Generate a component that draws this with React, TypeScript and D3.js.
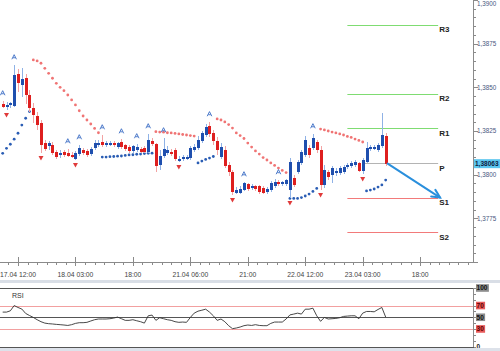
import * as d3 from "d3";

// hourly EURUSD-like bars, 17.04 08:00 .. 23.04 09:00
const open = [
  1.38405, 1.38387, 1.38399, 1.38393, 1.38576, 1.38513, 1.38553, 1.38456, 1.38382, 1.38336,
  1.38296, 1.38181, 1.38164, 1.3817, 1.3813, 1.38113, 1.3813, 1.38124, 1.38113, 1.3809,
  1.38118, 1.38141, 1.38136, 1.38118, 1.38153, 1.3817, 1.38187, 1.3817, 1.3817, 1.38181,
  1.38158, 1.38187, 1.3817, 1.38158, 1.38136, 1.38141, 1.38147, 1.38153, 1.3813, 1.38193,
  1.38176, 1.38055, 1.38107, 1.38124, 1.3813, 1.38141, 1.38078, 1.3809, 1.3809, 1.38095,
  1.38141, 1.38153, 1.38193, 1.38227, 1.38279, 1.38239, 1.38193, 1.38101, 1.38141, 1.38055,
  1.38015, 1.37895, 1.37895, 1.37912, 1.37947, 1.37924, 1.37935, 1.37935, 1.37924, 1.37901,
  1.37912, 1.37935, 1.37958, 1.37947, 1.37947, 1.37912, 1.37981, 1.38015, 1.38067, 1.38113,
  1.38153, 1.38153, 1.38187, 1.38141, 1.37941, 1.38015, 1.37998, 1.3801, 1.3801, 1.38015,
  1.38044, 1.3805, 1.38055, 1.38067, 1.38021, 1.38073, 1.38147, 1.38147, 1.38141, 1.38164,
  1.38221,
];
const high = [
  1.38422, 1.38416, 1.38416, 1.38628, 1.38605, 1.38611, 1.38576, 1.38485, 1.3841, 1.38359,
  1.38313, 1.38199, 1.38193, 1.38187, 1.38141, 1.38141, 1.38141, 1.38147, 1.3813, 1.38136,
  1.3817, 1.38153, 1.38147, 1.38158, 1.38199, 1.38199, 1.38227, 1.38193, 1.38193, 1.38193,
  1.38187, 1.38204, 1.38176, 1.3817, 1.3817, 1.38176, 1.38158, 1.38164, 1.38233, 1.3821,
  1.38181, 1.38141, 1.3821, 1.38164, 1.38147, 1.38153, 1.38107, 1.38113, 1.38113, 1.38164,
  1.38176, 1.38221, 1.3825, 1.3829, 1.38302, 1.38256, 1.38216, 1.38181, 1.38164, 1.38073,
  1.38027, 1.37929, 1.37935, 1.37958, 1.37952, 1.37947, 1.37941, 1.37941, 1.37935, 1.37929,
  1.37964, 1.37975, 1.3797, 1.37964, 1.37975, 1.38095, 1.37998, 1.38084, 1.38141, 1.38221,
  1.3817, 1.38233, 1.38199, 1.38164, 1.38055, 1.38027, 1.3805, 1.38038, 1.3805, 1.38055,
  1.38067, 1.38078, 1.38084, 1.38073, 1.38095, 1.38187, 1.3817, 1.3817, 1.38181, 1.38353,
  1.38239,
];
const low = [
  1.38382, 1.3837, 1.38382, 1.38387, 1.38473, 1.38445, 1.38405, 1.38359, 1.38296, 1.38256,
  1.38124, 1.38136, 1.38141, 1.38113, 1.3809, 1.38095, 1.38101, 1.38101, 1.38095, 1.38084,
  1.38107, 1.38113, 1.38101, 1.38107, 1.38141, 1.38158, 1.38158, 1.38158, 1.38164, 1.38158,
  1.38147, 1.38147, 1.38136, 1.38124, 1.38124, 1.3813, 1.38124, 1.38124, 1.38124, 1.38164,
  1.38015, 1.38027, 1.38095, 1.38113, 1.38107, 1.38078, 1.38073, 1.38078, 1.38084, 1.38084,
  1.3813, 1.38141, 1.38181, 1.38216, 1.38216, 1.3817, 1.38113, 1.3809, 1.38038, 1.37992,
  1.37884, 1.37889, 1.37889, 1.37907, 1.37907, 1.37912, 1.37907, 1.37889, 1.37889, 1.37889,
  1.37901, 1.37924, 1.37935, 1.37935, 1.37935, 1.37866, 1.37929, 1.38004, 1.38055, 1.38101,
  1.38095, 1.38141, 1.38124, 1.37912, 1.37924, 1.3797, 1.37952, 1.37992, 1.37998, 1.38004,
  1.38033, 1.38038, 1.38044, 1.38015, 1.38004, 1.38067, 1.38136, 1.38141, 1.3813, 1.38153,
  1.3805,
];
const close = [
  1.38387, 1.38399, 1.3841, 1.38571, 1.38525, 1.38548, 1.38456, 1.38382, 1.38342, 1.38284,
  1.3817, 1.38147, 1.38181, 1.38124, 1.38101, 1.38124, 1.38113, 1.38107, 1.38101, 1.38124,
  1.38153, 1.38124, 1.38113, 1.38147, 1.38181, 1.38181, 1.3817, 1.38181, 1.38181, 1.3817,
  1.38181, 1.38158, 1.38147, 1.38136, 1.38164, 1.38158, 1.3813, 1.3813, 1.38199, 1.38176,
  1.3805, 1.38107, 1.38147, 1.38141, 1.38118, 1.3809, 1.3809, 1.38101, 1.38101, 1.38153,
  1.38158, 1.38199, 1.38239, 1.38273, 1.38233, 1.38193, 1.38141, 1.38158, 1.3805, 1.38015,
  1.37901, 1.37912, 1.37918, 1.37952, 1.37918, 1.37935, 1.37918, 1.37901, 1.37895, 1.37918,
  1.37952, 1.37958, 1.37947, 1.37958, 1.3797, 1.38073, 1.37941, 1.38073, 1.3813, 1.38199,
  1.38113, 1.3821, 1.38141, 1.37941, 1.38027, 1.37987, 1.38038, 1.38021, 1.38038, 1.38044,
  1.38055, 1.38067, 1.38073, 1.38021, 1.38084, 1.38153, 1.38158, 1.38158, 1.3817, 1.38227,
  1.38063,
];

// parabolic SAR
const sar = [
  1.38122, 1.38151, 1.38174, 1.38203, 1.38237, 1.38284, 1.38323, 1.38361, 1.38657, 1.38651,
  1.38638, 1.38609, 1.3858, 1.38552, 1.38523, 1.385, 1.38481, 1.38456, 1.38428, 1.38399,
  1.38366, 1.38336, 1.38313, 1.3829, 1.38265, 1.3824, 1.38101, 1.38101, 1.38103, 1.38104,
  1.38106, 1.38107, 1.3811, 1.38113, 1.38114, 1.38117, 1.38118, 1.38121, 1.38122, 1.38123,
  1.38246, 1.38244, 1.38243, 1.3824, 1.38239, 1.38236, 1.38233, 1.3823, 1.38227, 1.38224,
  1.38221, 1.38067, 1.38078, 1.38087, 1.38095, 1.38104, 1.38319, 1.38313, 1.38302, 1.38287,
  1.38267, 1.38239, 1.38224, 1.38207, 1.38181, 1.38158, 1.38136, 1.38118, 1.38098, 1.38084,
  1.38067, 1.38053, 1.38038, 1.38024, 1.38012, 1.37864, 1.37864, 1.37864, 1.37869, 1.37878,
  1.37889, 1.37904, 1.37921, 1.38261, 1.38256, 1.3825, 1.38244, 1.38239, 1.38233, 1.38227,
  1.38219, 1.38213, 1.38204, 1.38196, 1.38187, 1.37907, 1.37912, 1.37918, 1.37929, 1.37941,
  1.37969,
];

const rsi = [
  58.8, 58.8, 61, 70, 66.7, 64, 56.5, 53, 49.7, 45.8,
  42.4, 40, 39, 38.5, 37.8, 37.3, 36.7, 36, 37.3, 39.5,
  40.7, 40.7, 41.3, 43.6, 45.8, 47, 47, 47, 47.5, 48.6,
  50.3, 47.5, 44.7, 44.7, 45.8, 44, 42.4, 40, 52.5, 53.7,
  44.7, 49.2, 47.5, 45.8, 44.7, 42.4, 41.3, 41.8, 41.3, 49.7,
  57, 60.4, 62, 63.8, 58.8, 52.5, 44.7, 47, 42.4, 35.6,
  30.5, 31.6, 33.3, 35.6, 36.7, 36, 37.3, 36, 35.6, 35.6,
  39.5, 41.8, 41.8, 41.8, 47, 54, 55.4, 57, 55.4, 63.8,
  63.8, 65.5, 52.5, 43, 49.7, 47, 47.5, 48, 49.2, 51.4,
  52, 52.5, 52.5, 47.5, 57, 59.9, 59.9, 59.3, 63.3, 66.7,
  50.3,
];

const fractalUp = [0, 3, 17, 20, 26, 31, 35, 38, 42, 54, 63, 72, 81];
const fractalDown = [1, 10, 19, 46, 60, 75, 83, 94];

const pivotNames = ["R3", "R2", "R1", "P", "S1", "S2"];
const pivotValues = [1.38857, 1.38462, 1.38267, 1.38064, 1.37869, 1.37669];
const pivotColors = ["#7fdc72", "#7fdc72", "#7fdc72", "#b4b4b4", "#f27a7a", "#f27a7a"];
const pivotFrom = [90, 90, 90, 94, 90, 90];
const pivotTo = 113.7;
const arrowTarget = 114.2;

const xTickBars = [4, 19, 34, 49, 64, 79, 94, 109];
const xTickLabels = [
  "17.04 12:00", "18.04 03:00", "18:00", "21.04 06:00",
  "21:00", "22.04 12:00", "23.04 03:00", "18:00",
];
const priceTicks = [1.375, 1.3775, 1.38, 1.3825, 1.385, 1.3875, 1.39];
const rsiLevels = [100, 70, 50, 30, 0];

const FONT = "'Liberation Sans', Arial, sans-serif";
const BLUE = "#1f4fae";
const BLUE_WICK = "#8fb2e6";
const RED = "#de1f1f";
const RED_WICK = "#f3a3a3";

export default function App() {
  const W = 500;
  const H = 351;
  const axisX = 473.5;

  const x = d3.scaleLinear().domain([-0.7, 122.8]).range([0, 473]);
  const y = d3.scaleLinear().domain([1.375, 1.39]).range([262, 0]);
  const yR = d3.scaleLinear().domain([0, 100]).range([346.5, 288]);

  const bars = d3.range(close.length);
  const fmt = (v: number) => v.toFixed(4).replace(".", ",");

  const rsiPath = d3
    .line<number>()
    .x((_, i) => x(i))
    .y((d) => yR(d))(rsi) as string;

  const minorPrice = d3.range(1.375, 1.39001, 0.0005);
  const minorBars = d3.range(-1, 123, 2.5);
  const minorRsi = d3.range(0, 101, 10);

  // arrow from last close to S1
  const last = close.length - 1;
  const ax1 = x(last) + 2;
  const ay1 = y(close[last]);
  const ax2 = x(arrowTarget);
  const ay2 = y(pivotValues[4]);
  const ang = Math.atan2(ay2 - ay1, ax2 - ax1);
  const headLen = 9;
  const h1 = [ax2 - headLen * Math.cos(ang - 0.45), ay2 - headLen * Math.sin(ang - 0.45)];
  const h2 = [ax2 - headLen * Math.cos(ang + 0.45), ay2 - headLen * Math.sin(ang + 0.45)];

  const rsiLabelStyle: Record<number, { bg: string; fg: string }> = {
    100: { bg: "#8c8c8c", fg: "#111" },
    70: { bg: "#e85a5a", fg: "#5a0000" },
    50: { bg: "#8c8c8c", fg: "#111" },
    30: { bg: "#e85a5a", fg: "#5a0000" },
    0: { bg: "none", fg: "#222" },
  };

  return (
    <svg
      width={W}
      height={H}
      style={{ position: "absolute", left: 0, top: 0, background: "#fff" }}
      fontFamily={FONT}
    >
      <rect width={W} height={H} fill="#fff" />

      {/* pivot levels */}
      {pivotValues.map((v, k) => (
        <g key={pivotNames[k]}>
          <line
            x1={x(pivotFrom[k])}
            x2={x(pivotTo)}
            y1={Math.round(y(v)) + 0.5}
            y2={Math.round(y(v)) + 0.5}
            stroke={pivotColors[k]}
            strokeWidth={1}
          />
          <text
            x={x(pivotTo) + 1}
            y={y(v) + 7.5}
            fontSize={8}
            fontWeight="bold"
            fill="#222"
          >
            {pivotNames[k]}
          </text>
        </g>
      ))}

      {/* parabolic SAR */}
      {bars.map((i) => (
        <circle
          key={"s" + i}
          cx={x(i)}
          cy={y(sar[i])}
          r={1.4}
          fill={sar[i] > close[i] ? "#f07474" : "#2a5db4"}
        />
      ))}

      {/* candles */}
      <g shapeRendering="crispEdges">
        {bars.map((i) => {
          const up = close[i] >= open[i];
          const cx = Math.round(x(i));
          const top = y(Math.max(open[i], close[i]));
          const bot = y(Math.min(open[i], close[i]));
          return (
            <g key={"c" + i}>
              <line
                x1={cx + 0.5}
                x2={cx + 0.5}
                y1={y(high[i])}
                y2={y(low[i])}
                stroke={up ? BLUE_WICK : RED_WICK}
              />
              <rect
                x={cx - 1}
                y={top}
                width={3}
                height={Math.max(1, bot - top)}
                fill={up ? BLUE : RED}
              />
            </g>
          );
        })}
      </g>

      {/* fractals */}
      {fractalUp.map((i) => {
        const cx = x(i);
        const cy = y(high[i]) - 8;
        return (
          <path
            key={"fu" + i}
            d={`M${cx - 2.3},${cy + 2.3}L${cx},${cy - 2.3}L${cx + 2.3},${cy + 2.3}M${cx - 1.2},${cy + 0.8}L${cx + 1.2},${cy + 0.8}`}
            fill="none"
            stroke="#3a6cc4"
            strokeWidth={0.9}
          />
        );
      })}
      {fractalDown.map((i) => {
        const cx = x(i);
        const cy = y(low[i]) + 5;
        return (
          <path
            key={"fd" + i}
            d={`M${cx - 2.5},${cy - 2}L${cx + 2.5},${cy - 2}L${cx},${cy + 2.5}Z`}
            fill="#e03a3a"
          />
        );
      })}

      {/* forecast arrow */}
      <g stroke="#2a8fdc" strokeWidth={2} fill="none" strokeLinecap="round">
        <line x1={ax1} y1={ay1} x2={ax2} y2={ay2} />
        <path d={`M${h1[0]},${h1[1]}L${ax2},${ay2}L${h2[0]},${h2[1]}`} />
      </g>

      {/* price axis */}
      <g shapeRendering="crispEdges">
        <line x1={axisX} x2={axisX} y1={0} y2={262} stroke="#8a8a8a" />
        {minorPrice.map((v) => (
          <line key={"mp" + v} x1={axisX} x2={axisX + 2.5} y1={Math.round(y(v)) + 0.5} y2={Math.round(y(v)) + 0.5} stroke="#8a8a8a" />
        ))}
        {priceTicks.map((v) => (
          <line key={"pt" + v} x1={axisX} x2={axisX + 4} y1={Math.round(y(v)) + 0.5} y2={Math.round(y(v)) + 0.5} stroke="#8a8a8a" />
        ))}
      </g>
      {priceTicks.slice(1).map((v) => (
        <text key={"pl" + v} x={477} y={Math.max(y(v) + 2.2, 5.5)} fontSize={6.3} fill="#4a5880">
          {fmt(v)}
        </text>
      ))}
      <rect x={474} y={y(close[last]) - 4.5} width={26} height={9} fill="#5cc6ef" />
      <text x={475} y={y(close[last]) + 2.3} fontSize={6.5} fontWeight="bold" fill="#102040">
        {close[last].toFixed(5).replace(".", ",")}
      </text>

      {/* time axis */}
      <g shapeRendering="crispEdges">
        <line x1={0} x2={axisX} y1={262.5} y2={262.5} stroke="#8a8a8a" />
        {minorBars.map((b) => (
          <line key={"mb" + b} x1={Math.round(x(b)) + 0.5} x2={Math.round(x(b)) + 0.5} y1={262} y2={264.5} stroke="#8a8a8a" />
        ))}
        {xTickBars.map((b) => (
          <line key={"xb" + b} x1={Math.round(x(b)) + 0.5} x2={Math.round(x(b)) + 0.5} y1={257} y2={266} stroke="#8a8a8a" />
        ))}
      </g>
      {xTickBars.map((b, k) => (
        <text key={"xl" + b} x={x(b)} y={276.5} fontSize={6.8} fill="#444" textAnchor="middle">
          {xTickLabels[k]}
        </text>
      ))}

      {/* separator */}
      <rect x={0} y={280} width={W} height={3} fill="#d9dee6" />

      {/* RSI panel */}
      <g shapeRendering="crispEdges">
        {rsiLevels.map((lv) => (
          <line
            key={"rl" + lv}
            x1={0}
            x2={axisX}
            y1={Math.round(yR(lv)) + 0.5}
            y2={Math.round(yR(lv)) + 0.5}
            stroke={lv === 70 || lv === 30 ? "#f2a0a0" : "#555"}
            strokeWidth={1}
          />
        ))}
        <line x1={axisX} x2={axisX} y1={288} y2={347} stroke="#8a8a8a" />
        {minorRsi.map((lv) => (
          <line key={"mr" + lv} x1={axisX} x2={axisX + 2.5} y1={Math.round(yR(lv)) + 0.5} y2={Math.round(yR(lv)) + 0.5} stroke="#8a8a8a" />
        ))}
      </g>
      <path d={rsiPath} fill="none" stroke="#333" strokeWidth={0.9} />
      <text x={12} y={297.5} fontSize={7} fill="#333">RSI</text>
      {rsiLevels.map((lv) => {
        const st = rsiLabelStyle[lv];
        const tw = String(lv).length * 3.8 + 1.5;
        return (
          <g key={"rt" + lv}>
            {st.bg !== "none" && (
              <rect x={476} y={yR(lv) - 3.8} width={tw} height={7.6} fill={st.bg} />
            )}
            <text x={476.6} y={yR(lv) + 2.4} fontSize={6.5} fontWeight="bold" fill={st.fg}>
              {lv}
            </text>
          </g>
        );
      })}
      <rect x={0} y={348} width={W} height={3} fill="#dde2ea" />
    </svg>
  );
}
